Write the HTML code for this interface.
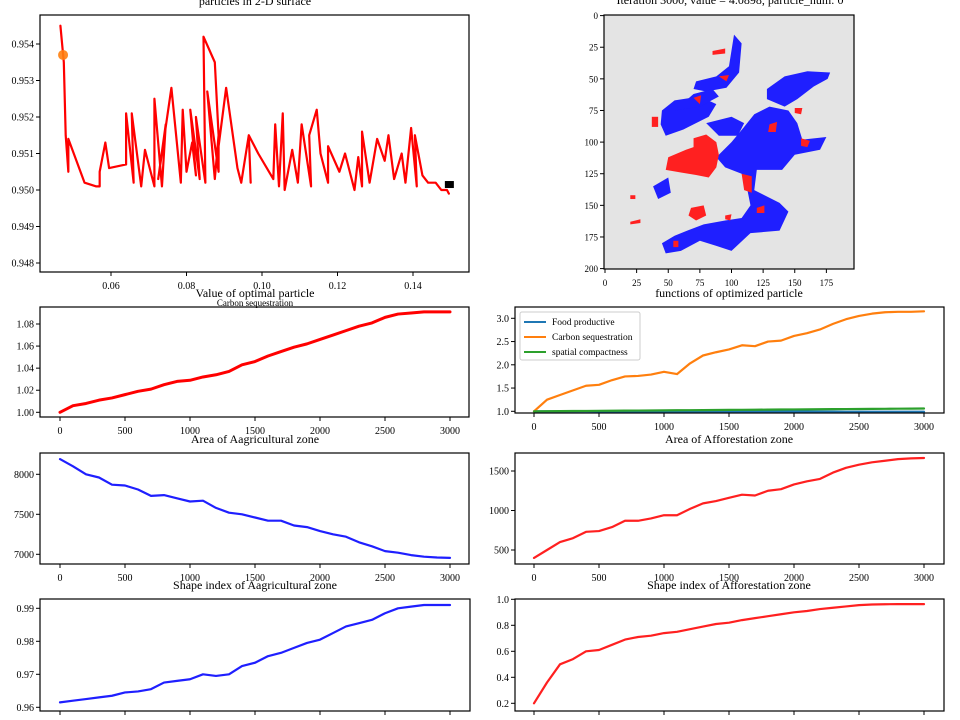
<!DOCTYPE html>
<html><head><meta charset="utf-8"><style>
html,body{margin:0;padding:0;background:#fff;}
svg{display:block;font-family:"Liberation Serif",serif;}
</style></head><body>
<svg id="fig" width="960" height="720" viewBox="0 0 960 720" xmlns="http://www.w3.org/2000/svg"></svg>
<script>
// ---------- data ----------
const iters = [0,100,200,300,400,500,600,700,800,900,1000,1100,1200,1300,1400,1500,1600,1700,1800,1900,2000,2100,2200,2300,2400,2500,2600,2700,2800,2900,3000];
const carbonSeq = [1.000,1.006,1.008,1.011,1.013,1.016,1.019,1.021,1.025,1.028,1.029,1.032,1.034,1.037,1.043,1.046,1.051,1.055,1.059,1.062,1.066,1.070,1.074,1.078,1.081,1.086,1.089,1.090,1.091,1.091,1.091];
const agriArea = [8190,8100,8000,7960,7870,7860,7810,7730,7740,7700,7660,7670,7580,7520,7500,7460,7420,7420,7360,7340,7290,7250,7220,7150,7100,7040,7020,6990,6970,6960,6955];
const agriShape = [0.9615,0.9620,0.9625,0.9630,0.9635,0.9645,0.9648,0.9655,0.9675,0.9680,0.9685,0.9700,0.9695,0.9700,0.9725,0.9735,0.9755,0.9765,0.9780,0.9795,0.9805,0.9825,0.9845,0.9855,0.9865,0.9885,0.9900,0.9905,0.9910,0.9910,0.9910];
const fnFood = [1.000,1.000,1.000,1.000,1.000,0.999,0.999,0.999,0.999,0.998,0.998,0.998,0.997,0.997,0.996,0.996,0.996,0.995,0.995,0.994,0.994,0.993,0.993,0.993,0.992,0.992,0.992,0.991,0.991,0.991,0.991];
const fnCarbon = [1.00,1.25,1.35,1.45,1.55,1.57,1.67,1.75,1.76,1.79,1.85,1.80,2.03,2.20,2.27,2.33,2.42,2.40,2.50,2.52,2.62,2.68,2.76,2.88,2.98,3.05,3.10,3.13,3.14,3.14,3.15];
const fnCompact = [1.000,1.002,1.004,1.006,1.008,1.010,1.012,1.014,1.016,1.018,1.020,1.022,1.024,1.026,1.028,1.030,1.032,1.034,1.036,1.038,1.040,1.042,1.044,1.046,1.048,1.050,1.052,1.054,1.056,1.058,1.060];
const affArea = [400,500,600,650,730,740,790,870,870,900,940,940,1020,1090,1120,1160,1200,1190,1250,1270,1330,1370,1400,1480,1540,1580,1610,1630,1650,1660,1665];
const affShape = [0.20,0.36,0.50,0.54,0.60,0.61,0.65,0.69,0.71,0.72,0.74,0.75,0.77,0.79,0.81,0.82,0.84,0.855,0.87,0.885,0.90,0.91,0.925,0.935,0.945,0.955,0.96,0.962,0.963,0.963,0.963];
const trajX = [0.0466,0.0475,0.048,0.0487,0.0487,0.053,0.056,0.057,0.057,0.0585,0.0595,0.064,0.064,0.066,0.0655,0.068,0.069,0.0715,0.0715,0.0735,0.0745,0.0725,0.076,0.0785,0.079,0.080,0.0815,0.0825,0.081,0.0835,0.0825,0.085,0.0845,0.0875,0.0885,0.0875,0.0855,0.0885,0.0885,0.0905,0.0935,0.0945,0.0965,0.097,0.0965,0.099,0.103,0.1035,0.1045,0.1055,0.106,0.108,0.1095,0.1105,0.113,0.1125,0.1145,0.1155,0.1175,0.1175,0.1205,0.122,0.1245,0.1255,0.1265,0.1265,0.1285,0.1305,0.1325,0.1335,0.135,0.137,0.138,0.1395,0.141,0.1405,0.1425,0.144,0.146,0.1475,0.149,0.1495];
const trajY = [0.9545,0.9535,0.9515,0.9505,0.9514,0.9502,0.9501,0.9501,0.9505,0.9513,0.9506,0.9507,0.9521,0.9502,0.9521,0.9501,0.9511,0.9501,0.9525,0.9501,0.9518,0.9503,0.9528,0.9502,0.9522,0.9505,0.9513,0.9504,0.9522,0.9503,0.9520,0.9502,0.9542,0.9535,0.9515,0.9503,0.9527,0.9505,0.9512,0.9528,0.9506,0.9502,0.9515,0.9502,0.9515,0.9510,0.9503,0.9518,0.9501,0.9521,0.9500,0.9511,0.9502,0.9518,0.9501,0.9515,0.9522,0.9510,0.9502,0.9512,0.9505,0.9510,0.9500,0.9509,0.9501,0.9516,0.9502,0.9514,0.9508,0.9515,0.9503,0.9510,0.9502,0.9517,0.9501,0.9515,0.9504,0.9502,0.9502,0.9500,0.9500,0.9499];
const startPt = [0.0473,0.95370];
const bestPt = [0.1495,0.95015];
const iterTicks = [0,500,1000,1500,2000,2500,3000];

const NS="http://www.w3.org/2000/svg";
const fig=document.getElementById('fig');
function el(tag,attrs,parent){const e=document.createElementNS(NS,tag);for(const k in attrs)e.setAttribute(k,attrs[k]);(parent||fig).appendChild(e);return e;}
function txt(s,x,y,size,anchor,parent){const t=el('text',{x:x,y:y,'font-size':size,'text-anchor':anchor||'middle',fill:'#000'},parent);t.textContent=s;return t;}

function makeAxes(name,L,T,R,B,xmin,xmax,ymin,ymax,x0px,x1px,y0px,y1px){
  const g=el('g',{});
  
  
  const sx=v=>x0px+(v-xmin)/(xmax-xmin)*(x1px-x0px);
  const sy=v=>y0px+(v-ymin)/(ymax-ymin)*(y1px-y0px);
  return {g,sx,sy,L,T,R,B};
}
function frame(ax){const r=el('rect',{x:ax.L,y:ax.T,width:ax.R-ax.L,height:ax.B-ax.T,fill:'none',stroke:'#000','stroke-width':1.2},ax.g);}
function xticks(ax,vals,labels,size){vals.forEach((v,i)=>{const x=ax.sx(v);el('line',{x1:x,x2:x,y1:ax.B,y2:ax.B+4,stroke:'#000','stroke-width':1},ax.g);if(labels){const t=txt(labels[i],x,ax.B+17,size||10,'middle',ax.g);}});}
function yticks(ax,vals,labels,size){vals.forEach((v,i)=>{const y=ax.sy(v);el('line',{x1:ax.L-4,x2:ax.L,y1:y,y2:y,stroke:'#000','stroke-width':1},ax.g);const t=txt(labels[i],ax.L-6,y+3.5,size||10,'end',ax.g);});}
function line(ax,xs,ys,color,w,step,name){let d='';xs.forEach((x,i)=>{const px=ax.sx(x),py=ax.sy(ys[i]);if(i===0)d+='M'+px+' '+py;else if(step){d+=' H'+px+' V'+py;}else d+=' L'+px+' '+py;});const p=el('path',{d:d,fill:'none',stroke:color,'stroke-width':w,'stroke-linejoin':'round','stroke-linecap':'round'},ax.g);return p;}
function title(s,x,y,size,name){const t=txt(s,x,y,size);}

// ---------- top-left: particles trajectory ----------
{
 const ax=makeAxes('trajectory-axes',40,15,469,272,0.06,0.14,0.954,0.948,111,413,44,263);
 line(ax,trajX,trajY,'#ff0000',2.2,false,'particle-trajectory');
 const c=el('circle',{cx:ax.sx(startPt[0]),cy:ax.sy(startPt[1]),r:5,fill:'#ff7f0e',opacity:0.9},ax.g);
 
 const s=el('rect',{x:ax.sx(bestPt[0])-4,y:ax.sy(bestPt[1])-3.5,width:9,height:7,fill:'#000'},ax.g);
 
 frame(ax);
 xticks(ax,[0.06,0.08,0.10,0.12,0.14],['0.06','0.08','0.10','0.12','0.14']);
 yticks(ax,[0.948,0.949,0.950,0.951,0.952,0.953,0.954],['0.948','0.949','0.950','0.951','0.952','0.953','0.954']);
 title('particles in 2-D surface',255,5,12,'trajectory-title');
}

// ---------- top-right: map ----------
{
 const ax=makeAxes('map-axes',604,15,854,269,0,200,0,200,605,605+200*1.265,15.6,15.6+200*1.265);
 const bg=el('rect',{x:604,y:15,width:250,height:254,fill:'#e4e4e4'},ax.g);
 
 const blue=[
  [[45,75],[55,67],[75,64],[88,70],[82,80],[62,90],[48,95],[44,86]],
  [[88,112],[100,100],[110,88],[118,78],[130,72],[145,75],[152,85],[156,98],[175,96],[170,106],[150,110],[140,122],[120,122],[118,138],[138,148],[145,155],[138,170],[115,172],[100,186],[88,182],[75,178],[60,186],[48,188],[45,180],[55,174],[65,170],[78,165],[95,162],[108,160],[115,150],[112,135],[108,125],[95,120]],
  [[128,58],[142,48],[160,44],[178,45],[176,50],[165,56],[152,66],[142,72],[128,66]],
  [[72,52],[88,48],[98,40],[102,15],[108,22],[106,45],[96,57],[80,60],[70,58]],
  [[55,75],[70,62],[85,58],[90,64],[75,72]],
  [[80,85],[100,80],[110,85],[105,95],[90,95]],
  [[38,135],[50,128],[52,140],[42,145]]
 ];
 const red=[
  [[70,97],[80,94],[88,100],[90,110],[88,120],[82,128],[72,126],[60,124],[48,122],[50,112],[64,106],[70,104]],
  [[68,152],[78,150],[80,158],[72,162],[66,158]],
  [[155,97],[162,99],[160,104],[155,103]],
  [[37,80],[42,80],[42,88],[37,88]],
  [[108,125],[116,127],[116,140],[110,138]],
  [[120,152],[126,150],[126,156],[120,156]],
  [[130,86],[136,84],[135,92],[129,92]],
  [[90,48],[98,47],[96,52]],[[70,65],[76,63],[75,70]],
  [[54,178],[58,178],[58,183],[54,183]],
  [[95,158],[100,157],[99,162],[95,161]],
  [[150,73],[156,73],[155,78],[150,77]],
  [[20,142],[24,142],[24,145],[20,145]],[[20,163],[28,161],[28,164],[20,165]],
  [[85,28],[95,26],[95,30],[85,31]]
 ];
 blue.forEach(poly=>{const p=el('polygon',{points:poly.map(q=>ax.sx(q[0])+','+ax.sy(q[1])).join(' '),fill:'#1f1fff'},ax.g);});
 red.forEach(poly=>{const p=el('polygon',{points:poly.map(q=>ax.sx(q[0])+','+ax.sy(q[1])).join(' '),fill:'#ff2020'},ax.g);});
 frame(ax);
 xticks(ax,[0,25,50,75,100,125,150,175],['0','25','50','75','100','125','150','175'],9);
 yticks(ax,[0,25,50,75,100,125,150,175,200],['0','25','50','75','100','125','150','175','200'],9);
 title('Iteration 3000, value = 4.0898, particle_num: 0',730,4,12,'map-title');
}

// ---------- iteration charts ----------
function iterChart(name,L,R,T,B,x0,x1,ymin,ymax,y0,y1,yt,ylab,series,ttl,tx,ty){
 const ax=makeAxes(name,L,T,R,B,0,3000,ymin,ymax,x0,x1,y0,y1);
 series.forEach(s=>line(ax,iters,s[0],s[1],s[2],false,s[3]));
 frame(ax);
 xticks(ax,iterTicks,iterTicks.map(String));
 yticks(ax,yt,ylab);
 title(ttl,tx,ty,12,name.replace('-axes','-title'));
 return ax;
}
iterChart('carbon-axes',40,469,307,417,60,450,1.00,1.08,412.3,324,[1.00,1.02,1.04,1.06,1.08],['1.00','1.02','1.04','1.06','1.08'],[[carbonSeq,'#ff0000',3,'carbon-line']],'Value of optimal particle',255,297);
title('Carbon sequestration',255,306,9,'carbon-subtitle');
iterChart('agri-area-axes',40,469,453,564,60,450,8000,7000,474.3,554.3,[7000,7500,8000],['7000','7500','8000'],[[agriArea,'#1f1fff',2.2,'agri-area-line']],'Area of Aagricultural zone',255,443);
iterChart('agri-shape-axes',40,470,599,711,60,450,0.99,0.96,608.3,707.3,[0.96,0.97,0.98,0.99],['0.96','0.97','0.98','0.99'],[[agriShape,'#1f1fff',2.2,'agri-shape-line']],'Shape index of Aagricultural zone',255,589);
const fnAx=iterChart('functions-axes',515,944,307,413,534,924,1.0,3.0,411.3,318.3,[1.0,1.5,2.0,2.5,3.0],['1.0','1.5','2.0','2.5','3.0'],[[fnFood,'#1f77b4',2.2,'food-line'],[fnCarbon,'#ff7f0e',2.2,'carbon-fn-line'],[fnCompact,'#2ca02c',2.2,'compactness-line']],'functions of optimized particle',729,297);
iterChart('aff-area-axes',515,944,453,564,534,924,500,1500,550,471,[500,1000,1500],['500','1000','1500'],[[affArea,'#ff2020',2.2,'aff-area-line']],'Area of Afforestation zone',729,443);
iterChart('aff-shape-axes',515,944,599,711,534,924,0.2,1.0,703.3,599.3,[0.2,0.4,0.6,0.8,1.0],['0.2','0.4','0.6','0.8','1.0'],[[affShape,'#ff2020',2.2,'aff-shape-line']],'Shape index of Afforestation zone',729,589);

// legend
{
 const g=el('g',{});
 
 el('rect',{x:520,y:312,width:120,height:48,fill:'#fff',stroke:'#ccc','stroke-width':1,rx:2},g);
 const items=[['Food productive','#1f77b4'],['Carbon sequestration','#ff7f0e'],['spatial compactness','#2ca02c']];
 items.forEach((it,i)=>{const y=321+i*15;const l=el('line',{x1:524,x2:546,y1:y+1,y2:y+1,stroke:it[1],'stroke-width':2},g);const t=txt(it[0],552,y+4,9.5,'start',g);});
}
</script>
</body></html>
